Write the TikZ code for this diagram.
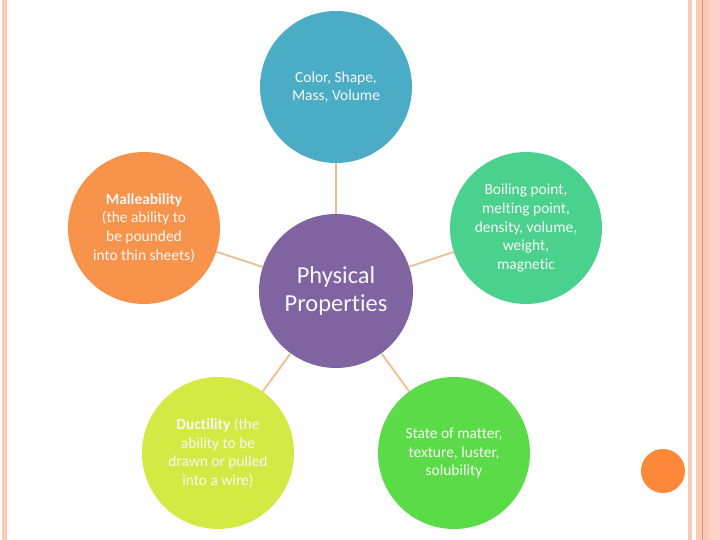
\documentclass[tikz,border=0pt]{standalone}
\usepackage{fontspec}
\setmainfont{Carlito}[Ligatures=NoCommon]
\definecolor{propblue}{HTML}{4BACC6}
\definecolor{propteal}{HTML}{4BD18E}
\definecolor{proplime}{HTML}{5CDB48}
\definecolor{propyellow}{HTML}{D3EA44}
\definecolor{proporange}{HTML}{F7934A}
\definecolor{proppurple}{HTML}{8064A2}
\definecolor{linktan}{HTML}{ECBE92}
\definecolor{edgepeach}{HTML}{FBCAB6}
\definecolor{edgeline}{HTML}{E2966E}
\definecolor{dotorange}{HTML}{FD8839}
\tikzset{
  >=latex,
}
\tikzstyle{bubble}=[circle,minimum size=152bp,inner sep=0pt,align=center,
  text=white!94!gray,font=\fontsize{15.5}{18.8}\selectfont]
\tikzstyle{link}=[line width=1.8bp,linktan]
\tikzstyle{stripe}=[fill=edgepeach]

\begin{document}
\begin{tikzpicture}[x=1bp,y=-1bp]
    \useasboundingbox[fill=white] (0,0) rectangle (720,540);
    % slide border
    \fill[stripe] (2,0) rectangle (7,540);
    \fill[stripe] (688,0) rectangle (692,540);
    \fill[stripe] (696,0) rectangle (709,540);
    \fill[edgepeach!90!red!60!white] (709,0) rectangle (720,540);
    \fill[edgeline] (702,0) rectangle (703.2,540);
    \fill[dotorange] (663,471) circle (22);
    % bubbles
    \node[bubble,fill=proppurple,minimum size=154bp,
      font=\fontsize{24.5}{27.5}\selectfont] (phys) at (336,291)
      {Physical\\Properties};
    \node[bubble,fill=propblue] (color) at (336,87)
      {Color, Shape,\\Mass, Volume};
    \node[bubble,fill=propteal] (boil) at (526,228)
      {Boiling point,\\melting point,\\density, volume,\\weight,\\magnetic};
    \node[bubble,fill=proplime] (state) at (454,453)
      {State of matter,\\texture, luster,\\solubility};
    \node[bubble,fill=propyellow] (duct) at (218,453)
      {\textbf{Ductility} (the\\ability to be\\drawn or pulled\\into a wire)};
    \node[bubble,fill=proporange] (mall) at (144,228)
      {\textbf{Malleability}\\(the ability to\\be pounded\\into thin sheets)};
    % links
    \foreach \n in {color,boil,state,duct,mall}
      \draw[link] (phys) -- (\n);
\end{tikzpicture}
\end{document}
